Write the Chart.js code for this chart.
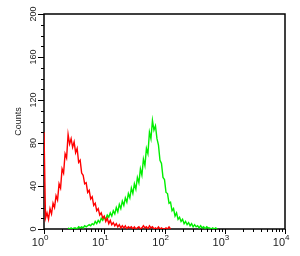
<!DOCTYPE html>
<html>
<head>
<meta charset="utf-8">
<script src="https://cdn.jsdelivr.net/npm/chart.js@4"></script>
<style>
    html, body { margin: 0; padding: 0; background: #fff; }
</style>
</head>
<body>
<canvas id="histograma" width="300" height="256"></canvas>
<script>
// canales en log10 (0 = 10^0 ... 4 = 10^4)
const binLog = [
    0, 0.025, 0.05, 0.075, 0.1, 0.125, 0.15, 0.175, 0.2, 0.225,
    0.25, 0.275, 0.3, 0.325, 0.35, 0.375, 0.4, 0.425, 0.45, 0.475,
    0.5, 0.525, 0.55, 0.575, 0.6, 0.625, 0.65, 0.675, 0.7, 0.725,
    0.75, 0.775, 0.8, 0.825, 0.85, 0.875, 0.9, 0.925, 0.95, 0.975,
    1, 1.025, 1.05, 1.075, 1.1, 1.125, 1.15, 1.175, 1.2, 1.225,
    1.25, 1.275, 1.3, 1.325, 1.35, 1.375, 1.4, 1.425, 1.45, 1.475,
    1.5, 1.525, 1.55, 1.575, 1.6, 1.625, 1.65, 1.675, 1.7, 1.725,
    1.75, 1.775, 1.8, 1.825, 1.85, 1.875, 1.9, 1.925, 1.95, 1.975,
    2, 2.025, 2.05, 2.075, 2.1, 2.125, 2.15, 2.175, 2.2, 2.225,
    2.25, 2.275, 2.3, 2.325, 2.35, 2.375, 2.4, 2.425, 2.45, 2.475,
    2.5, 2.525, 2.55, 2.575, 2.6, 2.625, 2.65, 2.675, 2.7, 2.725,
    2.75, 2.775, 2.8, 2.825, 2.85, 2.875, 2.9
];

const rojo = [
    90, 10, 15, 9, 19, 14, 24, 20, 31, 27,
    42, 38, 56, 52, 70, 66, 88, 79, 84, 76,
    81, 71, 75, 62, 64, 52, 50, 42, 43, 34,
    36, 28, 30, 22, 24, 17, 19, 13, 15, 10,
    12, 7, 10, 5, 8, 4, 6, 3, 5, 2,
    4, 1, 3, 1, 3, 0, 2, 1, 2, 0,
    2, 0, 1, 2, 0, 1, 3, 1, 2, 0,
    3, 1, 2, 0, 1, 0, 2, 0, 1, 0,
    0, 1, 0, 2, 0
];

const verde = [
    null, null, null, null, null, null, null, null, null, null,
    null, null, null, null, null, null, 1, 0, 1, 0,
    1, 1, 0, 2, 1, 2, 1, 3, 2, 3,
    4, 3, 5, 4, 7, 5, 8, 6, 10, 8,
    11, 9, 13, 11, 15, 12, 17, 14, 20, 16,
    23, 19, 26, 22, 29, 25, 33, 29, 38, 33,
    42, 37, 48, 43, 56, 50, 65, 59, 75, 70,
    90, 84, 101, 92, 96, 84, 78, 64, 61, 48,
    46, 34, 33, 24, 25, 17, 19, 12, 15, 9,
    11, 7, 9, 5, 7, 4, 6, 3, 5, 2,
    4, 2, 3, 1, 3, 1, 2, 0, 2, 1,
    1, 0, 1, 0, 1, 0
];

const yTicks = [0, 40, 80, 120, 160, 200];
const xTicks = [0, 1, 2, 3, 4];
const xExpo = ['0', '1', '2', '3', '4'];

const fuente = '"Liberation Sans", Arial, sans-serif';

// marco antes de las curvas
const marco = {
    id: 'marco',
    beforeDatasetsDraw(chart) {
        const ctx = chart.ctx;
        const a = chart.chartArea;
        ctx.save();
        ctx.strokeStyle = '#000';
        ctx.lineWidth = 1.5;
        ctx.strokeRect(a.left, a.top, a.right - a.left, a.bottom - a.top);
        ctx.restore();
    }
};

// marcas de los ejes y etiquetas 10^n
const marcas = {
    id: 'marcas',
    afterDraw(chart) {
        const ctx = chart.ctx;
        const a = chart.chartArea;
        const sx = chart.scales.x;
        const sy = chart.scales.y;
        ctx.save();
        ctx.strokeStyle = '#000';
        ctx.lineWidth = 1;
        for (let v = 0; v <= 200; v += 10) {
            const y = Math.round(sy.getPixelForValue(v)) + 0.5;
            const len = v % 40 === 0 ? 6 : 3;
            ctx.beginPath();
            ctx.moveTo(a.left - len, y);
            ctx.lineTo(a.left, y);
            ctx.stroke();
        }
        for (let d = 0; d <= 4; d++) {
            for (let k = 1; k <= 9; k++) {
                if (d === 4 && k > 1) break;
                const x = Math.round(sx.getPixelForValue(d + Math.log10(k))) + 0.5;
                const len = k === 1 ? 5 : 3;
                ctx.beginPath();
                ctx.moveTo(x, a.bottom);
                ctx.lineTo(x, a.bottom + len);
                ctx.stroke();
            }
        }
        ctx.fillStyle = '#222';
        ctx.textBaseline = 'alphabetic';
        xTicks.forEach((v, i) => {
            const x = sx.getPixelForValue(v);
            ctx.font = '11px ' + fuente;
            ctx.textAlign = 'right';
            ctx.fillText('10', x, 246);
            ctx.font = '8px ' + fuente;
            ctx.textAlign = 'left';
            ctx.fillText(xExpo[i], x, 240);
        });
        ctx.restore();
    }
};

new Chart(document.getElementById('histograma').getContext('2d'), {
    type: 'line',
    data: {
        labels: binLog,
        datasets: [
            { data: rojo, borderColor: '#ff0000', borderWidth: 1.4, pointRadius: 0, tension: 0 },
            { data: verde, borderColor: '#00ee00', borderWidth: 1.4, pointRadius: 0, tension: 0 }
        ]
    },
    options: {
        responsive: false,
        animation: false,
        layout: { padding: { top: 14, right: 15, left: 0, bottom: 0 } },
        plugins: {
            legend: { display: false },
            tooltip: { enabled: false }
        },
        scales: {
            x: {
                type: 'linear',
                min: 0,
                max: 4,
                grid: { display: false },
                border: { display: false },
                afterBuildTicks: s => { s.ticks = xTicks.map(v => ({ value: v })); },
                afterFit: s => { s.height = 27; },
                ticks: { display: false }
            },
            y: {
                min: 0,
                max: 200,
                grid: { display: false },
                border: { display: false },
                afterBuildTicks: s => { s.ticks = yTicks.map(v => ({ value: v })); },
                afterFit: s => { s.width = 44; },
                ticks: {
                    minRotation: 90,
                    maxRotation: 90,
                    crossAlign: 'center',
                    padding: -5,
                    color: '#222',
                    font: { family: fuente, size: 9 }
                },
                title: {
                    display: true,
                    text: 'Counts',
                    color: '#222',
                    font: { family: fuente, size: 9 },
                    padding: { top: 13, bottom: 0 }
                }
            }
        }
    },
    plugins: [marco, marcas]
});
</script>
</body>
</html>
